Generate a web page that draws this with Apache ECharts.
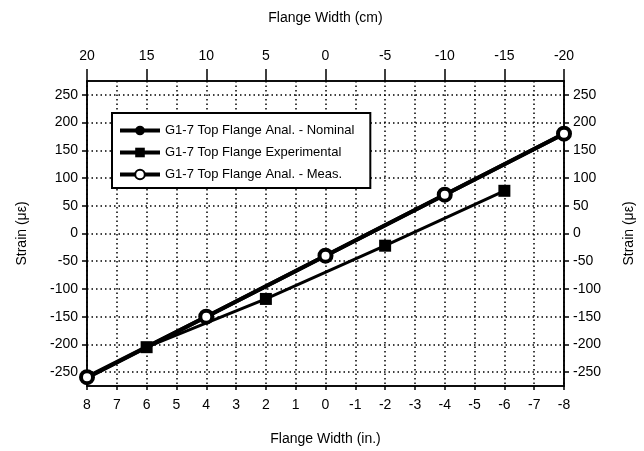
<!DOCTYPE html>
<html>
<head>
<meta charset="utf-8">
<script src="https://cdn.jsdelivr.net/npm/echarts@6/dist/echarts.min.js"></script>
<style>
  html, body { margin: 0; background: #fff; }
  #chart { width: 644px; height: 451px; }
</style>
</head>
<body>
<div id="chart"></div>
<script>
// flange position in inches
var nominalX = [8, 4, 0, -4, -8];
var nominal = [-260, -150, -40, 70, 180];
var expX = [6, 2, -2, -6];
var experimental = [-205, -118, -22, 77];
var measX = [8, 4, 0, -4, -8];
var measured = [-259, -150, -40, 70, 180];
var strainTicks = [-250, -200, -150, -100, -50, 0, 50, 100, 150, 200, 250];

var names = [
  'G1-7 Top Flange Anal. - Nominal',
  'G1-7 Top Flange Experimental',
  'G1-7 Top Flange Anal. - Meas.'
];

function pairs(xs, ys) {
  return xs.map(function (x, i) { return [x, ys[i]]; });
}

var font = 'Liberation Sans, Arial, Helvetica, sans-serif';
var txt = { color: '#000', fontSize: 14, fontFamily: font };
var dots = { color: '#000', type: [1.5, 3], width: 1.5 };
var blackLine = { show: true, onZero: false, lineStyle: { color: '#000', width: 1.5 } };

var chart = echarts.init(document.getElementById('chart'));

function yAx(pos) {
  return {
    type: 'value',
    position: pos,
    min: -275,
    max: 275,
    name: 'Strain (\u03bc\u03b5)',
    nameLocation: 'middle',
    nameRotate: 90,
    nameGap: 58,
    nameTextStyle: txt,
    axisLine: blackLine,
    axisTick: { show: true, inside: false, length: 5, customValues: strainTicks, lineStyle: { color: '#000', width: 1.5 } },
    axisLabel: Object.assign({ margin: 9, customValues: strainTicks }, txt),
    splitLine: { show: pos === 'left', lineStyle: dots }
  };
}

var option = {
  animation: false,
  backgroundColor: '#fff',
  grid: {
    left: 87, right: 78, top: 81, bottom: 65,
    show: true, borderColor: '#000', borderWidth: 1.5
  },
  legend: {
    orient: 'vertical',
    left: 112,
    top: 113,
    itemWidth: 40,
    itemHeight: 12,
    itemGap: 9,
    padding: [11, 16, 7, 6],
    backgroundColor: '#fff',
    borderColor: '#000',
    borderWidth: 2,
    lineStyle: { width: 4 },
    textStyle: { color: '#000', fontSize: 13, fontFamily: font },
    data: names
  },
  xAxis: [
    {
      type: 'value',
      position: 'bottom',
      inverse: true,
      min: -8, max: 8, interval: 1,
      name: 'Flange Width (in.)',
      nameLocation: 'middle',
      nameGap: 46,
      nameTextStyle: txt,
      axisLine: blackLine,
      axisTick: { show: true, length: 4, lineStyle: { color: '#000', width: 1.5 } },
      axisLabel: Object.assign({ margin: 12 }, txt),
      splitLine: { show: true, lineStyle: dots }
    },
    {
      type: 'value',
      position: 'top',
      inverse: true,
      min: -20, max: 20, interval: 5,
      name: 'Flange Width (cm)',
      nameLocation: 'middle',
      nameGap: 56,
      nameTextStyle: txt,
      axisLine: blackLine,
      axisTick: { show: true, length: 12, lineStyle: { color: '#000', width: 1.5 } },
      axisLabel: Object.assign({ margin: 18 }, txt),
      splitLine: { show: false }
    }
  ],
  yAxis: [yAx('left'), yAx('right')],
  series: [
    {
      name: names[0],
      type: 'line',
      data: pairs(nominalX, nominal),
      symbol: 'circle',
      symbolSize: 12,
      clip: false,
      lineStyle: { color: '#000', width: 4 },
      itemStyle: { color: '#000' },
      z: 3
    },
    {
      name: names[1],
      type: 'line',
      data: pairs(expX, experimental),
      symbol: 'rect',
      symbolSize: 12,
      clip: false,
      lineStyle: { color: '#000', width: 3 },
      itemStyle: { color: '#000' },
      z: 4
    },
    {
      name: names[2],
      type: 'line',
      data: pairs(measX, measured),
      symbol: 'circle',
      symbolSize: 12,
      clip: false,
      lineStyle: { color: '#000', width: 4 },
      itemStyle: { color: '#fff', borderColor: '#000', borderWidth: 4 },
      z: 5
    }
  ]
};

chart.setOption(option);
</script>
</body>
</html>
